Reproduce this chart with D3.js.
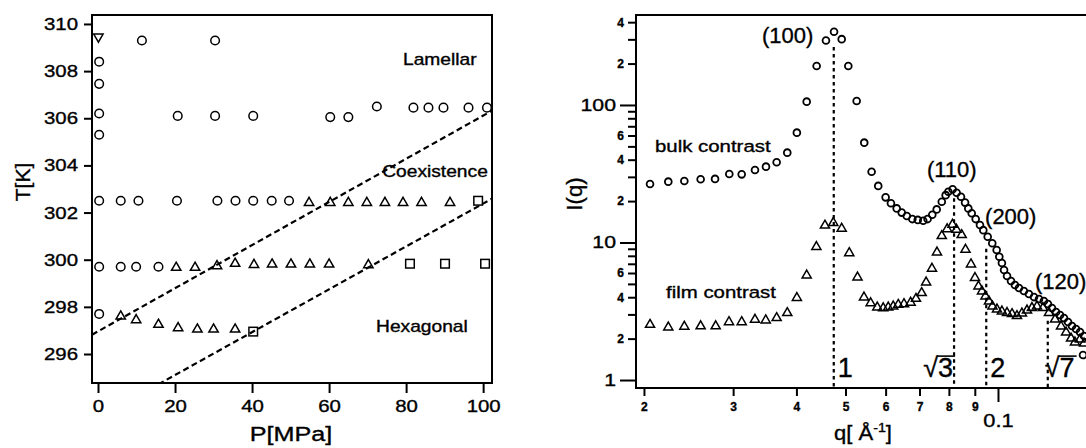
<!DOCTYPE html>
<html>
<head>
<meta charset="utf-8">
<script src="https://cdn.jsdelivr.net/npm/d3@7"></script>
<style>
  body { margin: 0; background: #fff; }
  svg { display: block; font-family: "Liberation Sans", Arial, sans-serif; }
  svg text { stroke: #000; stroke-width: 0.35px; }
</style>
</head>
<body>
<svg id="chart" width="1086" height="448"></svg>
<script>
// ---- left panel: phase diagram, T vs P ----
const circleP = [0.3, 0.3, 0.3, 0.3, 0.3, 0.3, 0.3, 11.4, 30.4,
  20.7, 30.4, 40.3, 60.3, 65.0, 72.4, 81.9, 85.8, 89.7, 96.2, 101.0,
  5.9, 10.5, 20.5, 31.0, 35.7, 40.3, 45.1, 49.6, 5.9, 9.9, 15.7];
const circleT = [308.4, 307.46, 306.2, 305.3, 302.5, 299.7, 297.7, 309.3, 309.3,
  306.1, 306.1, 306.1, 306.05, 306.05, 306.5, 306.45, 306.45, 306.45, 306.45, 306.45,
  302.5, 302.5, 302.5, 302.5, 302.5, 302.5, 302.5, 302.5, 299.7, 299.7, 299.7];
const triP = [54.8, 60.3, 65.0, 69.8, 74.5, 79.2, 84.0, 91.4,
  20.3, 25.2, 30.9, 35.6, 40.5, 45.2, 50.1, 55.0, 60.0, 70.2,
  5.9, 9.9, 15.7, 20.8, 25.8, 30.0, 35.6];
const triT = [302.47, 302.47, 302.47, 302.47, 302.47, 302.47, 302.47, 302.47,
  299.72, 299.72, 299.79, 299.89, 299.84, 299.86, 299.86, 299.86, 299.86, 299.83,
  297.65, 297.5, 297.3, 297.16, 297.1, 297.1, 297.1];
const squareP = [40.3, 98.7, 81.0, 90.1, 100.5];
const squareT = [296.95, 302.5, 299.83, 299.83, 299.83];
const downP = [0.1];
const downT = [309.4];
// phase boundaries T = t0 + slope * P
const boundaryT0 = [296.96, 293.29];
const boundarySlope = [0.0915, 0.0909];
const pTicks = [0, 20, 40, 60, 80, 100];
const tTicks = [296, 298, 300, 302, 304, 306, 308, 310];
const phaseNames = ['Lamellar', 'Coexistence', 'Hexagonal'];
const phaseP = [79.2, 73.8, 72.2];
const phaseT = [308.26, 303.5, 296.95];

// ---- right panel: scattering curves I(q) ----
const bulkQ = [0.02056, 0.02234, 0.02403, 0.02588, 0.02763, 0.02948, 0.03119, 0.03313, 0.03483, 0.03656,
  0.03837, 0.04008, 0.04191, 0.04385, 0.04575, 0.04746, 0.04914, 0.05064, 0.05260, 0.05445,
  0.05630, 0.05802, 0.06000, 0.06147, 0.06310, 0.06455, 0.06607, 0.06775, 0.06944, 0.07119,
  0.07261, 0.07418, 0.07568, 0.07745, 0.07883, 0.07979, 0.08137, 0.08286, 0.08451, 0.08610,
  0.08738, 0.08874, 0.09036, 0.09214, 0.09354, 0.09543, 0.09743, 0.0994, 0.1006, 0.1018,
  0.1028, 0.1042, 0.1061, 0.1080, 0.1100, 0.1125, 0.1151, 0.1178, 0.1205, 0.1232,
  0.1255, 0.1278, 0.1302, 0.1326, 0.1350, 0.1375, 0.1400, 0.1426, 0.1452, 0.1479, 0.1472];
const bulkI = [26.6, 27.7, 28.0, 28.8, 29.0, 31.5, 31.3, 33.7, 35.6, 38.3,
  45.0, 62.9, 105.7, 192, 294, 341, 301, 192, 107, 53.2,
  32.7, 25.8, 21.3, 19.3, 17.7, 16.5, 15.6, 14.8, 14.6, 14.4,
  14.8, 15.9, 17.4, 19.8, 22.1, 23.4, 24.4, 23.0, 21.5, 19.5,
  17.7, 16.3, 14.8, 13.4, 12.3, 11.0, 9.87, 8.82, 7.88, 7.10,
  6.31, 5.71, 5.25, 4.91, 4.67, 4.44, 4.22, 4.01, 3.88, 3.75,
  3.57, 3.34, 3.12, 2.97, 2.82, 2.64, 2.47, 2.35, 2.23, 2.09, 1.52];
const filmQ = [0.02056, 0.02234, 0.02403, 0.02588, 0.02771, 0.02944, 0.03119, 0.03313, 0.03479, 0.03656,
  0.03837, 0.04008, 0.04191, 0.04380, 0.04554, 0.04730, 0.04914, 0.05086, 0.05280, 0.05438,
  0.05605, 0.05777, 0.05935, 0.06072, 0.06211, 0.06355, 0.06522, 0.06723, 0.06888, 0.07068,
  0.07213, 0.07407, 0.07578, 0.07745, 0.07937, 0.08131, 0.08281, 0.08479, 0.08627, 0.08845,
  0.09007, 0.09152, 0.09299, 0.09447, 0.09599, 0.09752, 0.09955, 0.1018, 0.1042, 0.1066,
  0.1090, 0.1115, 0.1141, 0.1167, 0.1194, 0.1227, 0.1261, 0.1296, 0.1332, 0.1363,
  0.1394, 0.1419, 0.1452, 0.1479];
const filmI = [2.58, 2.47, 2.50, 2.52, 2.52, 2.70, 2.70, 2.81, 2.78, 2.89,
  3.14, 4.05, 5.90, 9.51, 13.6, 14.2, 12.9, 8.57, 5.71, 4.08,
  3.71, 3.45, 3.41, 3.45, 3.51, 3.61, 3.65, 3.74, 3.99, 4.39,
  5.25, 6.60, 8.67, 11.4, 12.8, 13.8, 12.7, 11.6, 9.08, 7.10,
  5.66, 4.91, 4.51, 4.15, 3.82, 3.51, 3.34, 3.23, 3.15, 3.09,
  2.99, 3.12, 3.28, 3.42, 3.51, 3.42, 3.15, 2.82, 2.51, 2.27,
  2.05, 1.92, 2.02, 1.89];
// hexagonal reflections: positions, top of the marker line, label
const reflQ = [0.0474, 0.0819, 0.0948, 0.1254];
const reflTop = [264, 21, 9, 2.7];
const reflLabel = ['1', '3', '2', '7'];
const reflRoot = [false, true, false, true];
const peakNames = ['(100)', '(110)', '(200)', '(120)'];
const peakQ = [0.0342, 0.0724, 0.0943, 0.1183];
const peakI = [282, 30.1, 13.6, 4.59];
const seriesNames = ['bulk contrast', 'film contrast'];
const seriesQ = [0.02103, 0.02211];
const seriesI = [45.7, 3.93];
const iMajorTicks = [1, 10, 100];
const iMinorTicks = [2, 3, 4, 5, 6, 7, 8, 9, 20, 30, 40, 50, 60, 70, 80, 90, 200, 300, 400];
const iMinorLabelled = [2, 4, 6];
const qMinorTicks = [0.02, 0.03, 0.04, 0.05, 0.06, 0.07, 0.08, 0.09];
const qMajorTicks = [0.1];

const svg = d3.select('#chart');
const FONT = '"Liberation Sans", Arial, sans-serif';

function stretchText(g, x, y, str, size, sx, anchor) {
  return g.append('text')
    .attr('transform', `translate(${x},${y}) scale(${sx},1)`)
    .attr('font-size', size)
    .attr('text-anchor', anchor || 'start')
    .attr('fill', '#000')
    .text(str);
}

function styleAxis(ax, size, sx, weight) {
  ax.select('.domain').remove();
  ax.selectAll('line').attr('stroke', '#000').attr('stroke-width', 2);
  ax.selectAll('text').attr('font-family', FONT).attr('font-size', size)
    .attr('font-weight', weight || 'normal').attr('fill', '#000');
}

// ================= left panel =================
const xL = d3.scaleLinear().domain([-1.56, 102.3]).range([92, 492]);
const yL = d3.scaleLinear().domain([294.77, 310.38]).range([383, 15]);
const left = svg.append('g');
left.append('clipPath').attr('id', 'clipL').append('rect')
  .attr('x', 92).attr('y', 15).attr('width', 400).attr('height', 368);

const axLY = left.append('g').attr('transform', 'translate(92,0)')
  .call(d3.axisLeft(yL).tickValues(tTicks).tickSize(8).tickPadding(6).tickFormat(d3.format('d')));
styleAxis(axLY, 17);
axLY.selectAll('text').attr('x', -14 / 1.2).attr('transform', 'scale(1.2,1)');

const axLX = left.append('g').attr('transform', 'translate(0,383)')
  .call(d3.axisBottom(xL).tickValues(pTicks).tickSize(10).tickPadding(7).tickFormat(d3.format('d')));
styleAxis(axLX, 17);
axLX.selectAll('text').attr('transform', 'scale(1.2,1)');

left.append('rect').attr('x', 92).attr('y', 15).attr('width', 400).attr('height', 368)
  .attr('fill', 'none').attr('stroke', '#000').attr('stroke-width', 2);

const plotL = left.append('g').attr('clip-path', 'url(#clipL)');
boundaryT0.forEach((t0, i) => {
  const p = xL.domain();
  plotL.append('line')
    .attr('x1', xL(p[0])).attr('y1', yL(t0 + boundarySlope[i] * p[0]))
    .attr('x2', xL(p[1])).attr('y2', yL(t0 + boundarySlope[i] * p[1]))
    .attr('stroke', '#000').attr('stroke-width', 2.2).attr('stroke-dasharray', '6,3.5');
});

plotL.selectAll('circle.c').data(d3.range(circleP.length)).join('circle')
  .attr('cx', i => xL(circleP[i])).attr('cy', i => yL(circleT[i])).attr('r', 4.3)
  .attr('fill', 'none').attr('stroke', '#000').attr('stroke-width', 1.5);

const triL = d3.symbol(d3.symbolTriangle, 38);
plotL.selectAll('path.t').data(d3.range(triP.length)).join('path')
  .attr('d', triL)
  .attr('transform', i => `translate(${xL(triP[i])},${yL(triT[i]) + 1.3})`)
  .attr('fill', 'none').attr('stroke', '#000').attr('stroke-width', 1.5);

plotL.selectAll('path.d').data(d3.range(downP.length)).join('path')
  .attr('d', triL)
  .attr('transform', i => `translate(${xL(downP[i])},${yL(downT[i]) - 1.3}) rotate(180)`)
  .attr('fill', 'none').attr('stroke', '#000').attr('stroke-width', 1.5);

plotL.selectAll('rect.s').data(d3.range(squareP.length)).join('rect')
  .attr('x', i => xL(squareP[i]) - 4.3).attr('y', i => yL(squareT[i]) - 4.3)
  .attr('width', 8.6).attr('height', 8.6)
  .attr('fill', 'none').attr('stroke', '#000').attr('stroke-width', 1.5);

phaseNames.forEach((name, i) => stretchText(left, xL(phaseP[i]), yL(phaseT[i]), name, 16, 1.2));

stretchText(left, 291, 441, 'P[MPa]', 21, 1.2, 'middle');
left.append('text').attr('transform', 'translate(30,182) rotate(-90)')
  .attr('font-size', 21).attr('text-anchor', 'middle').text('T[K]');

// ================= right panel =================
const xR = d3.scaleLog().domain([0.01929, 0.1492]).range([636, 1086]);
const yR = d3.scaleLog().domain([0.875, 451]).range([388, 15]);
const right = svg.append('g');
right.append('clipPath').attr('id', 'clipR').append('rect')
  .attr('x', 636).attr('y', 15).attr('width', 450).attr('height', 373);

const axRY1 = right.append('g').attr('transform', 'translate(636,0)')
  .call(d3.axisLeft(yR).tickValues(iMajorTicks).tickSize(16).tickPadding(4).tickFormat(d3.format('d')));
styleAxis(axRY1, 17);
axRY1.selectAll('text').attr('x', -20 / 1.25).attr('transform', 'scale(1.25,1)');

const minorLabel = d => {
  const lead = Math.round(d / Math.pow(10, Math.floor(Math.log10(d) + 1e-9)));
  return iMinorLabelled.includes(lead) ? String(lead) : '';
};
const axRY2 = right.append('g').attr('transform', 'translate(636,0)')
  .call(d3.axisLeft(yR).tickValues(iMinorTicks).tickSize(8).tickPadding(4).tickFormat(minorLabel));
styleAxis(axRY2, 12, 1, 'bold');

const axRX1 = right.append('g').attr('transform', 'translate(0,388)')
  .call(d3.axisBottom(xR).tickValues(qMinorTicks).tickSize(8).tickPadding(6).tickFormat(d => String(Math.round(d * 100))));
styleAxis(axRX1, 12, 1, 'bold');

const axRX2 = right.append('g').attr('transform', 'translate(0,388)')
  .call(d3.axisBottom(xR).tickValues(qMajorTicks).tickSize(14).tickPadding(12).tickFormat(d => String(d)));
styleAxis(axRX2, 19);
axRX2.selectAll('text').attr('transform', 'scale(1.15,1)');

right.append('path').attr('d', 'M1086,15H636V388H1086')
  .attr('fill', 'none').attr('stroke', '#000').attr('stroke-width', 2);

const plotR = right.append('g').attr('clip-path', 'url(#clipR)');
reflQ.forEach((q, i) => {
  plotR.append('line')
    .attr('x1', xR(q)).attr('x2', xR(q)).attr('y1', yR(reflTop[i])).attr('y2', 388)
    .attr('stroke', '#000').attr('stroke-width', 2.2).attr('stroke-dasharray', '3.5,3.5');
});

plotR.selectAll('circle.b').data(d3.range(bulkQ.length)).join('circle')
  .attr('cx', i => xR(bulkQ[i])).attr('cy', i => yR(bulkI[i])).attr('r', 3.4)
  .attr('fill', 'none').attr('stroke', '#000').attr('stroke-width', 1.8);

const triR = d3.symbol(d3.symbolTriangle, 36);
plotR.selectAll('path.f').data(d3.range(filmQ.length)).join('path')
  .attr('d', triR)
  .attr('transform', i => `translate(${xR(filmQ[i])},${yR(filmI[i]) + 1.3})`)
  .attr('fill', 'none').attr('stroke', '#000').attr('stroke-width', 1.5);

peakNames.forEach((name, i) => {
  right.append('text').attr('x', xR(peakQ[i])).attr('y', yR(peakI[i]))
    .attr('font-size', 22).text(name);
});
seriesNames.forEach((name, i) => stretchText(right, xR(seriesQ[i]), yR(seriesI[i]), name, 17, 1.2));

// reflection index labels at the foot of the dotted lines
const labelY = yR(1.05);
reflQ.forEach((q, i) => {
  const x = xR(q);
  if (!reflRoot[i]) {
    right.append('text').attr('x', x + 4).attr('y', labelY).attr('font-size', 27).text(reflLabel[i]);
    return;
  }
  const anchorEnd = i === 1;
  const t = right.append('text').attr('y', labelY).attr('font-size', 27).text('\u221A' + reflLabel[i]);
  const len = t.node().getComputedTextLength();
  const rad = t.node().getSubStringLength(0, 1);
  const x0 = anchorEnd ? x - len - 1 : x - 3;
  t.attr('x', x0);
  right.append('line')
    .attr('x1', x0 + rad - 1).attr('x2', x0 + len + 2)
    .attr('y1', labelY - 21).attr('y2', labelY - 21)
    .attr('stroke', '#000').attr('stroke-width', 1.6);
});

// axis titles
const qt = right.append('text').attr('transform', 'translate(863,440) scale(1.1,1)')
  .attr('font-size', 20).attr('text-anchor', 'middle');
qt.append('tspan').text('q[ \u00C5');
qt.append('tspan').attr('font-size', 13).attr('dy', -8).text('-1');
qt.append('tspan').attr('dy', 8).text(']');
right.append('text').attr('transform', 'translate(582,194) rotate(-90)')
  .attr('font-size', 22).attr('text-anchor', 'middle').text('I(q)');
</script>
</body>
</html>
